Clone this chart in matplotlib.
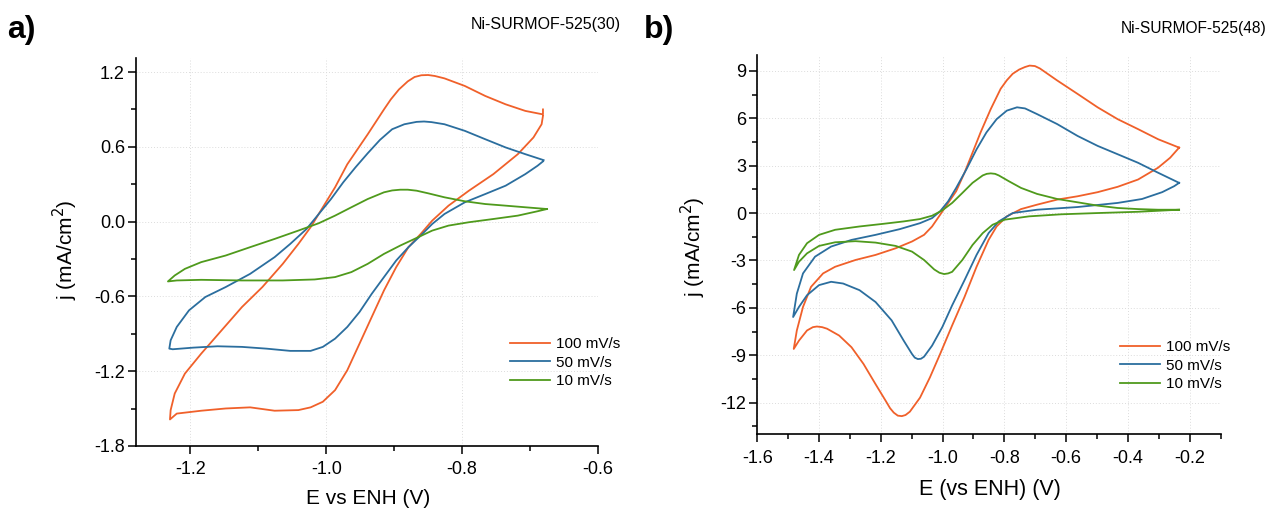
import matplotlib
matplotlib.use("Agg")
import matplotlib.pyplot as plt
from matplotlib.ticker import MultipleLocator

plt.rcParams['font.family'] = ['Liberation Sans', 'DejaVu Sans']

# ---------------- Panel a: Ni-SURMOF-525(30) ----------------
a_100_E = [-0.681, -0.681, -0.707, -0.736, -0.766, -0.796, -0.826, -0.840, -0.850, -0.860,
           -0.870, -0.880, -0.893, -0.905, -0.915, -0.939, -0.969, -0.987, -1.005, -1.023,
           -1.041, -1.064, -1.094, -1.124, -1.154, -1.184, -1.208, -1.223, -1.229, -1.230,
           -1.220, -1.184, -1.148, -1.112, -1.076, -1.041, -1.023, -1.005, -0.987, -0.969,
           -0.951, -0.933, -0.915, -0.897, -0.879, -0.861, -0.844, -0.820, -0.790, -0.754,
           -0.718, -0.695, -0.683, -0.681]
a_100_j = [0.90, 0.86, 0.888, 0.941, 1.008, 1.088, 1.149, 1.168, 1.176, 1.174,
           1.160, 1.125, 1.060, 0.980, 0.900, 0.700, 0.460, 0.275, 0.115, -0.045,
           -0.179, -0.339, -0.525, -0.685, -0.872, -1.059, -1.219, -1.379, -1.512, -1.587,
           -1.540, -1.517, -1.499, -1.490, -1.517, -1.512, -1.490, -1.445, -1.352, -1.192,
           -0.979, -0.765, -0.552, -0.365, -0.205, -0.099, 0.008, 0.128, 0.248, 0.381,
           0.541, 0.675, 0.781, 0.848]

a_50_E = [-0.680, -0.707, -0.736, -0.766, -0.796, -0.826, -0.845, -0.856, -0.867, -0.885,
          -0.903, -0.921, -0.939, -0.957, -0.975, -0.993, -1.011, -1.029, -1.053, -1.076,
          -1.112, -1.148, -1.178, -1.202, -1.220, -1.229, -1.231, -1.226, -1.196, -1.160,
          -1.124, -1.088, -1.053, -1.023, -1.005, -0.987, -0.969, -0.951, -0.933, -0.915,
          -0.897, -0.879, -0.861, -0.844, -0.826, -0.796, -0.766, -0.736, -0.707, -0.689,
          -0.681]
a_50_j = [0.493, 0.541, 0.595, 0.661, 0.728, 0.781, 0.798, 0.803, 0.800, 0.781,
          0.741, 0.655, 0.548, 0.435, 0.315, 0.181, 0.061, -0.059, -0.179, -0.285,
          -0.419, -0.525, -0.605, -0.712, -0.845, -0.952, -1.019, -1.024, -1.011, -1.000,
          -1.005, -1.019, -1.037, -1.037, -1.005, -0.939, -0.845, -0.725, -0.579, -0.445,
          -0.312, -0.205, -0.112, -0.019, 0.061, 0.155, 0.221, 0.288, 0.381, 0.448,
          0.483]

a_10_E = [-0.675, -0.707, -0.736, -0.766, -0.796, -0.826, -0.850, -0.867, -0.880, -0.891,
          -0.903, -0.915, -0.939, -0.963, -0.987, -1.011, -1.041, -1.076, -1.112, -1.148,
          -1.184, -1.208, -1.223, -1.233, -1.220, -1.184, -1.124, -1.064, -1.017, -0.987,
          -0.963, -0.939, -0.915, -0.891, -0.867, -0.844, -0.820, -0.790, -0.754, -0.718,
          -0.689, -0.675]
a_10_j = [0.101, 0.115, 0.128, 0.141, 0.163, 0.195, 0.227, 0.248, 0.256, 0.256,
          0.250, 0.235, 0.181, 0.115, 0.048, -0.013, -0.072, -0.139, -0.205, -0.272,
          -0.325, -0.379, -0.432, -0.480, -0.472, -0.467, -0.472, -0.472, -0.464, -0.445,
          -0.405, -0.339, -0.259, -0.192, -0.131, -0.072, -0.032, -0.005, 0.021, 0.048,
          0.083, 0.101]

# ---------------- Panel b: Ni-SURMOF-525(48) ----------------
b_100_E = [-0.234, -0.302, -0.367, -0.433, -0.498, -0.563, -0.629, -0.668, -0.685, -0.701,
           -0.718, -0.733, -0.752, -0.773, -0.792, -0.812, -0.844, -0.877, -0.903, -0.929,
           -0.956, -0.982, -1.008, -1.034, -1.060, -1.099, -1.152, -1.217, -1.282, -1.348,
           -1.387, -1.426, -1.452, -1.472, -1.482, -1.465, -1.439, -1.420, -1.407, -1.390,
           -1.374, -1.335, -1.295, -1.256, -1.217, -1.184, -1.170, -1.158, -1.145, -1.132,
           -1.120, -1.106, -1.073, -1.041, -1.008, -0.969, -0.929, -0.890, -0.851, -0.825,
           -0.792, -0.746, -0.694, -0.629, -0.563, -0.498, -0.433, -0.367, -0.302, -0.263,
           -0.234]
b_100_j = [4.14, 4.67, 5.31, 5.94, 6.69, 7.54, 8.39, 8.92, 9.15, 9.30,
           9.33, 9.24, 9.08, 8.81, 8.40, 7.86, 6.58, 5.10, 3.82, 2.55,
           1.38, 0.64, -0.11, -0.85, -1.38, -1.80, -2.23, -2.65, -2.97, -3.40,
           -3.82, -4.67, -5.94, -7.43, -8.60, -8.07, -7.43, -7.22, -7.18, -7.22,
           -7.32, -7.75, -8.49, -9.55, -10.83, -11.89, -12.35, -12.63, -12.82, -12.85,
           -12.78, -12.57, -11.68, -10.40, -8.92, -7.11, -5.31, -3.40, -1.70, -0.85,
           -0.21, 0.25, 0.53, 0.85, 1.06, 1.32, 1.66, 2.12, 2.87, 3.50,
           4.14]

b_50_E = [-0.234, -0.302, -0.367, -0.433, -0.498, -0.563, -0.629, -0.694, -0.733, -0.759,
          -0.792, -0.825, -0.858, -0.890, -0.923, -0.956, -0.982, -1.008, -1.034, -1.073,
          -1.139, -1.217, -1.295, -1.361, -1.413, -1.452, -1.472, -1.484, -1.465, -1.439,
          -1.400, -1.361, -1.322, -1.269, -1.217, -1.165, -1.126, -1.099, -1.090, -1.080,
          -1.070, -1.060, -1.034, -1.001, -0.969, -0.929, -0.890, -0.851, -0.818, -0.773,
          -0.694, -0.563, -0.433, -0.354, -0.289, -0.250, -0.234]
b_50_j = [1.91, 2.55, 3.18, 3.72, 4.25, 4.88, 5.63, 6.26, 6.62, 6.69,
          6.48, 5.94, 5.10, 4.03, 2.76, 1.59, 0.74, 0.11, -0.32, -0.64,
          -1.02, -1.38, -1.70, -2.12, -2.76, -3.82, -5.10, -6.58, -5.94, -5.20,
          -4.56, -4.35, -4.46, -4.88, -5.63, -6.79, -8.07, -8.92, -9.15, -9.24,
          -9.22, -9.09, -8.39, -7.22, -5.84, -4.25, -2.65, -1.27, -0.53, 0.00,
          0.21, 0.38, 0.64, 0.89, 1.32, 1.70, 1.91]

b_10_E = [-0.234, -0.302, -0.367, -0.433, -0.498, -0.563, -0.629, -0.694, -0.746, -0.786,
          -0.818, -0.830, -0.844, -0.857, -0.870, -0.903, -0.936, -0.969, -1.001, -1.034,
          -1.073, -1.126, -1.191, -1.269, -1.348, -1.400, -1.439, -1.465, -1.481, -1.465,
          -1.439, -1.400, -1.348, -1.282, -1.217, -1.152, -1.099, -1.060, -1.027, -1.010,
          -0.995, -0.982, -0.969, -0.936, -0.903, -0.870, -0.838, -0.799, -0.720, -0.616,
          -0.498, -0.367, -0.234]
b_10_j = [0.21, 0.21, 0.25, 0.32, 0.47, 0.68, 0.89, 1.21, 1.59, 2.02,
          2.38, 2.48, 2.51, 2.48, 2.38, 1.91, 1.27, 0.64, 0.17, -0.17,
          -0.38, -0.53, -0.68, -0.85, -1.06, -1.38, -1.91, -2.65, -3.61, -3.08,
          -2.55, -2.08, -1.85, -1.78, -1.87, -2.08, -2.44, -2.97, -3.57, -3.78,
          -3.86, -3.82, -3.72, -2.97, -2.02, -1.27, -0.74, -0.42, -0.21, -0.08,
          0.00, 0.08, 0.21]

labels = ["100 mV/s", "50 mV/s", "10 mV/s"]
colors = ["#F0602A", "#2B6E9E", "#4F9A1C"]

a_xlim, a_ylim = (-1.28, -0.6), (-1.8, 1.31)
b_xlim, b_ylim = (-1.6, -0.1), (-14.0, 10.0)

W, H = 1268, 509
fig = plt.figure(figsize=(W / 100, H / 100), dpi=100)


def px_axes(left, top, right, bottom):
    return fig.add_axes([left / W, 1 - bottom / H, (right - left) / W, (bottom - top) / H])


def style(ax):
    for side in ("top", "right"):
        ax.spines[side].set_visible(False)
    for side in ("left", "bottom"):
        ax.spines[side].set_linewidth(1.2)
    ax.tick_params(which="major", direction="out", length=6, width=1.1,
                   labelsize=13, pad=2)
    ax.tick_params(which="minor", direction="out", length=3.5, width=1.1)
    ax.tick_params(axis="x", which="major", pad=5)
    ax.grid(True, which="major", color="#dcdcdc", linestyle=(0, (1, 2)), linewidth=0.7)
    ax.set_axisbelow(True)


ax1 = px_axes(136, 58.3, 598, 446)
series_a = [(a_100_E, a_100_j), (a_50_E, a_50_j), (a_10_E, a_10_j)]
for (E, j), c, lab in zip(series_a, colors, labels):
    ax1.plot(E, j, color=c, lw=1.3, label=lab)
ax1.set_xlim(*a_xlim)
ax1.set_ylim(*a_ylim)
ax1.xaxis.set_major_locator(MultipleLocator(0.2))
ax1.xaxis.set_minor_locator(MultipleLocator(0.1))
ax1.yaxis.set_major_locator(MultipleLocator(0.6))
ax1.yaxis.set_minor_locator(MultipleLocator(0.3))
ax1.xaxis.set_major_formatter(plt.FuncFormatter(lambda v, p: f"{v:.1f}"))
ax1.yaxis.set_major_formatter(plt.FuncFormatter(lambda v, p: f"{v:.1f}" if abs(v) > 1e-9 else "0.0"))
style(ax1)
ax1.legend(loc="upper left", bbox_to_anchor=((510 - 136) / 462, 1 - (337 - 58.3) / 387.7),
           frameon=False, fontsize=11, handlelength=2.6, handletextpad=0.4,
           labelspacing=0.3, borderpad=0, borderaxespad=0)

ax2 = px_axes(757.3, 55, 1220.5, 434.3)
series_b = [(b_100_E, b_100_j), (b_50_E, b_50_j), (b_10_E, b_10_j)]
for (E, j), c, lab in zip(series_b, colors, labels):
    ax2.plot(E, j, color=c, lw=1.3, label=lab)
ax2.set_xlim(*b_xlim)
ax2.set_ylim(*b_ylim)
ax2.xaxis.set_major_locator(MultipleLocator(0.2))
ax2.xaxis.set_minor_locator(MultipleLocator(0.1))
ax2.yaxis.set_major_locator(MultipleLocator(3))
ax2.yaxis.set_minor_locator(MultipleLocator(1.5))
ax2.xaxis.set_major_formatter(plt.FuncFormatter(lambda v, p: f"{v:.1f}"))
ax2.yaxis.set_major_formatter(plt.FuncFormatter(lambda v, p: f"{v:.0f}" if abs(v) > 1e-9 else "0"))
style(ax2)
ax2.legend(loc="upper left", bbox_to_anchor=((1120 - 757.3) / 463.2, 1 - (340 - 55) / 379.3),
           frameon=False, fontsize=11, handlelength=2.6, handletextpad=0.4,
           labelspacing=0.3, borderpad=0, borderaxespad=0)

# Panel letters, sample names and axis titles
fig.text(7 / W, 1 - 30 / H, "a)", fontsize=23, fontweight="bold", va="center", ha="left")
fig.text(644 / W, 1 - 30 / H, "b)", fontsize=23, fontweight="bold", va="center", ha="left")
fig.text(621 / W, 1 - 24 / H, "Ni-SURMOF-525(30)", fontsize=11.5, va="center", ha="right")
fig.text(1266 / W, 1 - 28 / H, "Ni-SURMOF-525(48)", fontsize=11.2, va="center", ha="right")
fig.text(65 / W, 1 - 250 / H, "j (mA/cm$^2$)", fontsize=15, rotation=90, va="center", ha="center")
fig.text(693 / W, 1 - 247 / H, "j (mA/cm$^2$)", fontsize=15, rotation=90, va="center", ha="center")
fig.text(368 / W, 1 - 499 / H, "E vs ENH (V)", fontsize=15, va="center", ha="center")
fig.text(990 / W, 1 - 490 / H, "E (vs ENH) (V)", fontsize=15.5, va="center", ha="center")

fig.savefig("out.png", dpi=100)
